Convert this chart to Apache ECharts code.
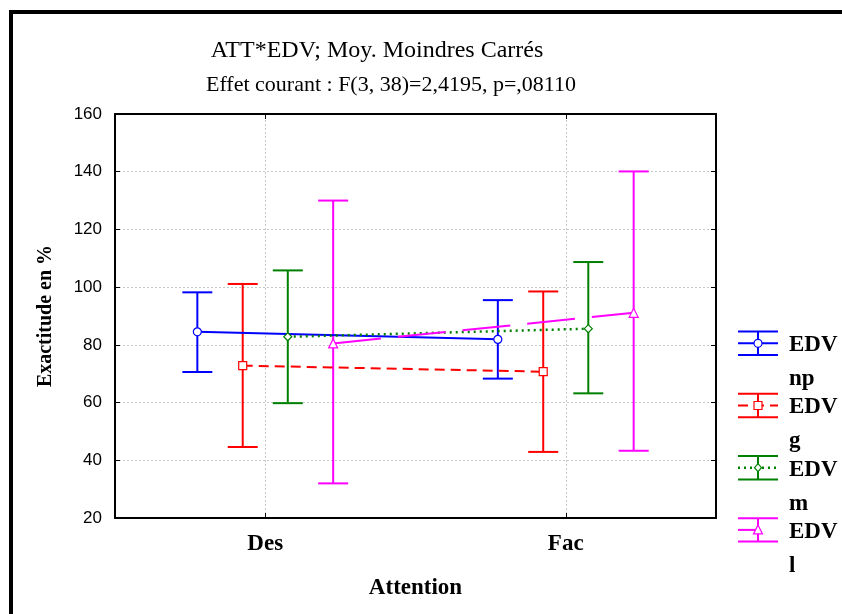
<!DOCTYPE html>
<html>
<head>
<meta charset="utf-8">
<script src="https://cdn.jsdelivr.net/npm/echarts@6/dist/echarts.min.js"></script>
<style>
html,body{margin:0;padding:0;background:#fff;}
#chart{width:842px;height:614px;}
</style>
</head>
<body>
<div id="chart"></div>
<script>
// ---- data ----
const categories = ['Des', 'Fac'];
const seriesNames = ['EDV np', 'EDV g', 'EDV m', 'EDV l'];
const meanNp = [84.5, 81.9];
const meanG  = [72.8, 70.7];
const meanM  = [82.8, 85.6];
const meanL  = [80.5, 91.1];
const upperNp = [98.2, 95.5];
const upperG  = [101.1, 98.5];
const upperM  = [105.8, 108.7];
const upperL  = [130.0, 140.1];
const lowerNp = [70.6, 68.3];
const lowerG  = [44.6, 42.9];
const lowerM  = [59.8, 63.2];
const lowerL  = [32.0, 43.3];
const yTicks = [20, 40, 60, 80, 100, 120, 140, 160];

const titleText = 'ATT*EDV; Moy. Moindres Carrés';
const subtitleText = 'Effet courant : F(3, 38)=2,4195, p=,08110';
const xName = 'Attention';
const yName = 'Exactitude en %';

// ---- styles ----
const means = [meanNp, meanG, meanM, meanL];
const uppers = [upperNp, upperG, upperM, upperL];
const lowers = [lowerNp, lowerG, lowerM, lowerL];
const colors = ['#0000ff', '#ff0000', '#008000', '#ff00ff'];
const offsets = [-0.226, -0.075, 0.075, 0.226]; // fraction of category band
const dashes = ['solid', [10, 6], [2, 4], [48, 17]];
const lineWidths = [2, 2, 2.5, 2];
const symbols = ['circle', 'rect', 'diamond', 'triangle'];
const symbolSizes = [8, 8, 8, 9];
const SERIF = "'Liberation Serif', 'Times New Roman', serif";
const SANS = "'Liberation Sans', Arial, sans-serif";
const gridLine = { color: '#c8c8c8', type: [2, 2], width: 1 };

const chart = echarts.init(document.getElementById('chart'), null, { renderer: 'canvas' });

const series = [];
seriesNames.forEach((name, s) => {
  // error bars
  series.push({
    type: 'custom',
    name: name,
    xAxisIndex: 0,
    yAxisIndex: 0,
    z: 2,
    silent: true,
    data: categories.map((c, i) => [i, lowers[s][i], uppers[s][i]]),
    renderItem: function (params, api) {
      const ci = api.value(0);
      const band = api.size([1, 0])[0];
      const xc = api.coord([ci, 0])[0] + offsets[s] * band;
      const yLo = api.coord([ci, api.value(1)])[1];
      const yHi = api.coord([ci, api.value(2)])[1];
      const hw = 15;
      const st = { stroke: colors[s], lineWidth: 2 };
      return {
        type: 'group',
        children: [
          { type: 'line', shape: { x1: xc, y1: yLo, x2: xc, y2: yHi }, style: st },
          { type: 'line', shape: { x1: xc - hw, y1: yHi, x2: xc + hw, y2: yHi }, style: st },
          { type: 'line', shape: { x1: xc - hw, y1: yLo, x2: xc + hw, y2: yLo }, style: st }
        ]
      };
    },
    markLine: s === 0 ? {
      silent: true,
      symbol: ['none', 'none'],
      label: { show: false },
      lineStyle: gridLine,
      z: 0,
      data: categories.map(c => ({ xAxis: c }))
    } : undefined
  });
  // mean line
  series.push({
    type: 'line',
    name: name,
    xAxisIndex: 1,
    yAxisIndex: 0,
    z: 3,
    silent: true,
    data: categories.map((c, i) => [i + 0.5 + offsets[s], means[s][i]]),
    symbol: symbols[s],
    symbolSize: symbolSizes[s],
    showAllSymbol: true,
    lineStyle: { color: colors[s], width: lineWidths[s], type: dashes[s] },
    itemStyle: { color: '#ffffff', borderColor: colors[s], borderWidth: 1.2 },
    animation: false
  });
});

// legend drawn as graphic (error-bar glyph + label)
const legendGraphics = [];
seriesNames.forEach((name, s) => {
  const yMid = 343.3 + s * 62.2;
  const x1 = 738, x2 = 778, xc = 758, h = 11.7;
  const st = { stroke: colors[s], lineWidth: 2, fill: null };
  legendGraphics.push({ type: 'line', shape: { x1: x1, y1: yMid - h, x2: x2, y2: yMid - h }, style: st });
  legendGraphics.push({ type: 'line', shape: { x1: x1, y1: yMid + h, x2: x2, y2: yMid + h }, style: st });
  legendGraphics.push({ type: 'line', shape: { x1: xc, y1: yMid - h, x2: xc, y2: yMid + h }, style: st });
  legendGraphics.push({ type: 'line', shape: { x1: x1, y1: yMid, x2: x2, y2: yMid },
    style: { stroke: colors[s], lineWidth: lineWidths[s], lineDash: dashes[s] === 'solid' ? null : (s === 3 ? [20, 30] : dashes[s]) } });
  const mst = { stroke: colors[s], lineWidth: 1.2, fill: '#ffffff' };
  if (s === 0) legendGraphics.push({ type: 'circle', shape: { cx: xc, cy: yMid, r: 4 }, style: mst });
  if (s === 1) legendGraphics.push({ type: 'rect', shape: { x: xc - 4, y: yMid - 4, width: 8, height: 8 }, style: mst });
  if (s === 2) legendGraphics.push({ type: 'polygon', shape: { points: [[xc, yMid - 4], [xc + 3.5, yMid], [xc, yMid + 4], [xc - 3.5, yMid]] }, style: mst });
  if (s === 3) legendGraphics.push({ type: 'polygon', shape: { points: [[xc, yMid - 5], [xc + 4.5, yMid + 4], [xc - 4.5, yMid + 4]] }, style: mst });
  legendGraphics.push({
    type: 'text',
    x: 789, y: yMid - 15,
    style: {
      text: name.split(' ').join('\n'),
      font: 'bold 23px ' + SERIF,
      lineHeight: 34,
      fill: '#000',
      verticalAlign: 'top',
      align: 'left'
    }
  });
});

const option = {
  backgroundColor: '#ffffff',
  animation: false,
  title: [
    { text: titleText, left: 372, top: 34, textAlign: 'center',
      textStyle: { fontFamily: SERIF, fontWeight: 'normal', fontSize: 24, color: '#000' } },
    { text: subtitleText, left: 386, top: 69, textAlign: 'center',
      textStyle: { fontFamily: SERIF, fontWeight: 'normal', fontSize: 22, color: '#000' } }
  ],
  grid: { left: 115, top: 114, width: 601, height: 404, show: false },
  xAxis: [
    {
      type: 'category', data: categories, position: 'bottom', boundaryGap: true,
      name: xName, nameLocation: 'middle', nameGap: 59,
      nameTextStyle: { fontFamily: SERIF, fontWeight: 'bold', fontSize: 23, color: '#000' },
      axisLine: { show: true, lineStyle: { color: '#000', width: 2 } },
      axisTick: { show: true, inside: true, alignWithLabel: true, length: 5, lineStyle: { color: '#000', width: 1 } },
      axisLabel: { margin: 15, fontFamily: SERIF, fontWeight: 'bold', fontSize: 23, color: '#000' },
      splitLine: { show: false }
    },
    {
      type: 'value', min: 0, max: 2, show: false, splitLine: { show: false }
    },
    {
      type: 'category', data: categories, position: 'top', boundaryGap: true,
      axisLine: { show: true, lineStyle: { color: '#000', width: 2 } },
      axisTick: { show: true, inside: true, alignWithLabel: true, length: 5, lineStyle: { color: '#000', width: 1 } },
      axisLabel: { show: false },
      splitLine: { show: false }
    }
  ],
  yAxis: [
    {
      type: 'value', min: yTicks[0], max: yTicks[yTicks.length - 1], interval: yTicks[1] - yTicks[0],
      position: 'left',
      name: yName, nameLocation: 'middle', nameGap: 59, nameRotate: 90,
      nameTextStyle: { fontFamily: SERIF, fontWeight: 'bold', fontSize: 20, color: '#000' },
      axisLine: { show: true, lineStyle: { color: '#000', width: 2 } },
      axisTick: { show: true, inside: true, length: 5, lineStyle: { color: '#000', width: 1 } },
      axisLabel: { margin: 13, fontFamily: SANS, fontSize: 17, color: '#000' },
      splitLine: { show: true, lineStyle: gridLine }
    },
    {
      type: 'value', min: yTicks[0], max: yTicks[yTicks.length - 1], interval: yTicks[1] - yTicks[0],
      position: 'right',
      axisLine: { show: true, lineStyle: { color: '#000', width: 2 } },
      axisTick: { show: true, inside: true, length: 5, lineStyle: { color: '#000', width: 1 } },
      axisLabel: { show: false },
      splitLine: { show: false }
    }
  ],
  graphic: [
    { type: 'rect', shape: { x: 11, y: 12, width: 1000, height: 1000 }, style: { stroke: '#000', lineWidth: 4, fill: null }, silent: true }
  ].concat(legendGraphics),
  series: series
};

chart.setOption(option);
</script>
</body>
</html>
